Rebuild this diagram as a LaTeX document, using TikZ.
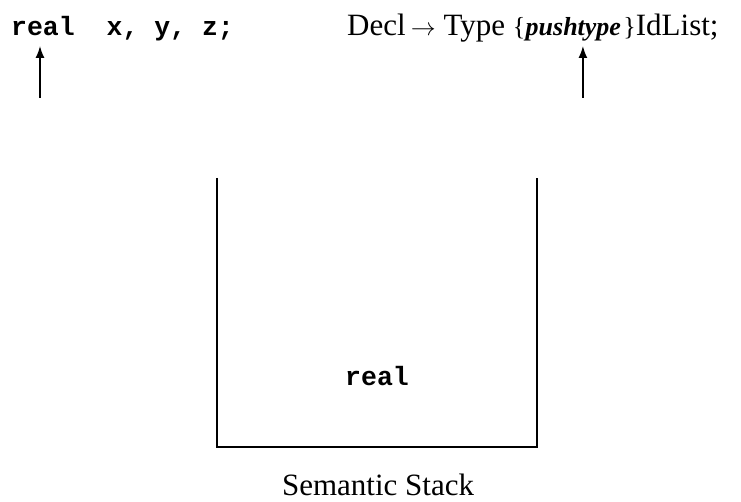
\documentclass[tikz,border=0pt]{standalone}
\usepackage{fontspec}
\setmainfont{Liberation Serif}
\setmonofont{Liberation Mono}
\usetikzlibrary{arrows.meta,calc}
\tikzset{
  codetext/.style={font=\fontsize{26.5}{30}\selectfont\ttfamily\bfseries, inner sep=0pt},
  prodtext/.style={font=\fontsize{31}{34}\selectfont, inner sep=0pt},
  pushtext/.style={font=\fontsize{26}{28}\selectfont\bfseries\itshape, inner sep=0pt},
  labeltext/.style={font=\fontsize{31}{34}\selectfont, inner sep=0pt, text depth=0pt},
  pointer/.style={line width=1.5pt, -{Latex[length=12pt,width=9pt]}},
  wall/.style={line width=1.5pt},
}
\newcommand{\smallbr}[1]{{\fontsize{26}{28}\selectfont #1}}
\begin{document}
\begin{tikzpicture}[x=1pt,y=-1pt]
\useasboundingbox (0,0) rectangle (741,502);
% input line and production
\node[codetext, anchor=base west] (code) at (11,36) {real\ \ x,\ y,\ z;};
\node[prodtext, anchor=base west] (prodA) at (347,36) {Decl\,$\rightarrow$ Type \smallbr{\{}};
\node[pushtext, anchor=base west] (push) at (prodA.base east) {pushtype};
\node[prodtext, anchor=base west] (prodB) at ([xshift=2pt]push.base east) {\smallbr{\}}IdList;};
% pointers
\coordinate (low) at (0,98);
\coordinate (high) at (0,46);
\coordinate (inp) at (40,0);
\coordinate (act) at ($(push.west)!0.6!(push.east)$);
\draw[pointer] (inp |- low) -- (inp |- high);
\draw[pointer] (act |- low) -- (act |- high);
% semantic stack
\coordinate (tl) at (217,178);
\coordinate (bl) at (217,447);
\coordinate (br) at (537,447);
\coordinate (tr) at (537,178);
\draw[wall] (tl) -- (bl) -- (br) -- (tr);
\node[codetext, anchor=base] (item) at (377,385) {real};
\node[labeltext, anchor=base] (cap) at (378,495) {Semantic Stack};
\end{tikzpicture}
\end{document}
